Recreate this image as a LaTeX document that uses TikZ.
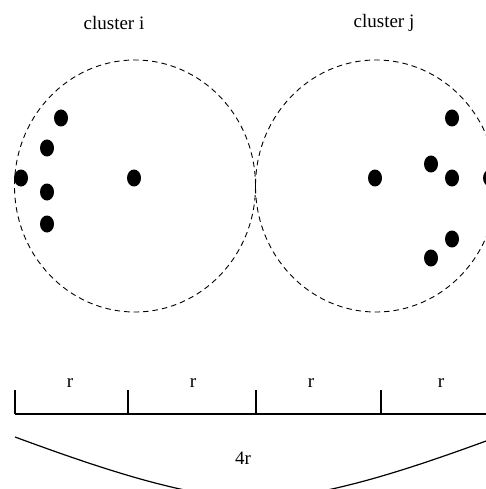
\documentclass[tikz,border=0pt]{standalone}
\usepackage{fontspec}
\setmainfont{Liberation Serif}
\usetikzlibrary{shapes.geometric}

\begin{document}
\begin{tikzpicture}[
        x=1pt, y=-1pt,
        cluster/.style={draw, ellipse, dashed, dash pattern=on 5.5pt off 4pt, line width=0.9pt, minimum width=241pt, minimum height=252pt, inner sep=0pt},
        dot/.style={fill, ellipse, minimum width=14pt, minimum height=17pt, inner sep=0pt},
        lbl/.style={font=\fontsize{19}{22}\selectfont, inner sep=0pt},
        ruler/.style={line width=1.2pt}
    ]
    \useasboundingbox (0,0) rectangle (486,489);

    % the two clusters
    \node[cluster] (Ci) at (135,186) {};
    \node[cluster] (Cj) at (376,186) {};
    \node[lbl] (LabI) at (114,23) {cluster i};
    \node[lbl] (LabJ) at (384,23) {cluster j};

    % points of cluster i
    \node[dot] (i1) at (61,118) {};
    \node[dot] (i2) at (47,148) {};
    \node[dot] (i3) at (21,178) {};
    \node[dot] (i4) at (47,192) {};
    \node[dot] (i5) at (47,224) {};
    \node[dot] (i6) at (134,178) {};

    % points of cluster j
    \node[dot] (j1) at (375,178) {};
    \node[dot] (j2) at (452,118) {};
    \node[dot] (j3) at (431,164) {};
    \node[dot] (j4) at (452,178) {};
    \node[dot] (j5) at (490,178) {};
    \node[dot] (j6) at (452,239) {};
    \node[dot] (j7) at (431,258) {};

    % ruler
    \coordinate (t0) at (15,414);
    \coordinate (t1) at (128,414);
    \coordinate (t2) at (256,414);
    \coordinate (t3) at (381,414);
    \coordinate (t4) at (497,414);
    \draw[ruler] (t0) -- (t4);
    \foreach \t in {t0,t1,t2,t3}
        \draw[ruler] (\t) -- ++(0,-24);
    \node[lbl] (r1) at (70,383) {r};
    \node[lbl] (r2) at (193,383) {r};
    \node[lbl] (r3) at (311,383) {r};
    \node[lbl] (r4) at (441,383) {r};

    % brace under the ruler
    \coordinate (bl) at (15,437);
    \coordinate (br) at (497,437);
    \draw[ruler] (bl) .. controls (110,472) and (185,496) .. (256,500)
                      .. controls (327,496) and (402,472) .. (br);
    \node[lbl] (Total) at (243,458) {4r};

\end{tikzpicture}
\end{document}
